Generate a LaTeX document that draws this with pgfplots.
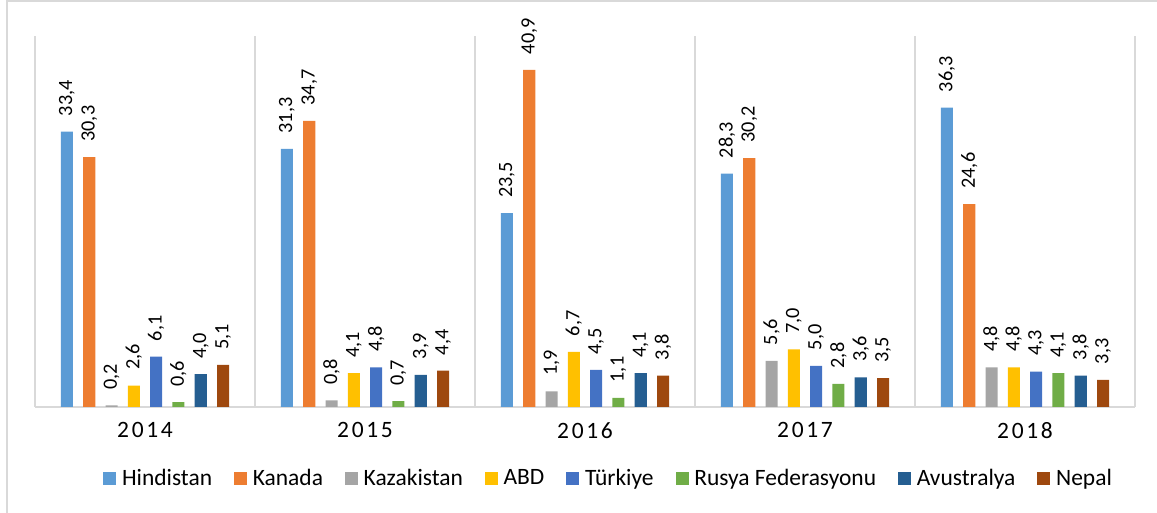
\documentclass[border=0pt]{standalone}
\usepackage{fontspec}
\setmainfont{Carlito}
\usepackage{pgfplots}
\pgfplotsset{compat=1.18}
\usepackage{pgfplotstable}
\definecolor{c1}{HTML}{5B9BD5}
\definecolor{c2}{HTML}{ED7D31}
\definecolor{c3}{HTML}{A5A5A5}
\definecolor{c4}{HTML}{FFC000}
\definecolor{c5}{HTML}{4472C4}
\definecolor{c6}{HTML}{70AD47}
\definecolor{c7}{HTML}{255E91}
\definecolor{c8}{HTML}{9E480E}
\definecolor{gridc}{HTML}{D9D9D9}

\pgfplotstableread{
x y
0 33.4
1 31.3
2 23.5
3 28.3
4 36.3
}\hind
\pgfplotstableread{
x y
0 30.3
1 34.7
2 40.9
3 30.2
4 24.6
}\kan
\pgfplotstableread{
x y
0 0.2
1 0.8
2 1.9
3 5.6
4 4.8
}\kaz
\pgfplotstableread{
x y
0 2.6
1 4.1
2 6.7
3 7.0
4 4.8
}\abd
\pgfplotstableread{
x y
0 6.1
1 4.8
2 4.5
3 5.0
4 4.3
}\tur
\pgfplotstableread{
x y
0 0.6
1 0.7
2 1.1
3 2.8
4 4.1
}\rus
\pgfplotstableread{
x y
0 4.0
1 3.9
2 4.1
3 3.6
4 3.8
}\avu
\pgfplotstableread{
x y
0 5.1
1 4.4
2 3.8
3 3.5
4 3.3
}\nep

\newcommand{\yr}[4]{{\fontsize{17.6}{20}\selectfont#1\kern2pt#2\kern2pt#3\kern2pt#4}}

\begin{document}
\begin{tikzpicture}
\useasboundingbox (0,0) rectangle (867.75pt,384.75pt);
\draw[gridc, line width=1.5pt] (5.25pt,0) -- (5.25pt,383.8pt) -- (867.75pt,383.8pt);
\begin{axis}[
  at={(26.25pt,79.5pt)}, anchor=south west,
  scale only axis, width=825pt, height=278.25pt,
  xmin=-0.5, xmax=4.5, ymin=0, ymax=45,
  clip=false,
  axis x line=bottom, axis y line=none,
  x axis line style={-, draw=gridc, line width=1.5pt},
  ytick=\empty,
  xtick={0,1,2,3,4},
  xticklabels={\yr2014,\yr2015,\yr2016,\yr2017,\yr2018},
  xticklabel style={yshift=-8pt},
  major tick length=0pt,
  minor xtick={-0.5,0.5,1.5,2.5,3.5,4.5},
  minor tick length=0pt,
  xminorgrids=true,
  minor grid style={gridc, line width=1.5pt},
  ybar, bar width=0.055,
  nodes near coords={\fontsize{15.2}{17}\selectfont\pgfmathprintnumber[fixed, fixed zerofill, precision=1, use comma, assume math mode=true]{\pgfplotspointmeta}},
  every node near coord/.append style={rotate=90, anchor=west, inner xsep=11.5pt, inner ysep=0pt, text=black},
  legend columns=8,
  legend image code/.code={\draw[#1, draw=none] (0pt,-4.875pt) rectangle (9.75pt,4.875pt); \path (12pt,0pt);},
  legend style={draw=none, fill=none, at={(0.5218,-0.1914)}, anchor=center,
    font=\fontsize{17.6}{20}\selectfont,
    /tikz/every even column/.append style={column sep=14.5pt}},
]
\addplot[fill=c1, draw=none, bar shift=-0.355] table {\hind};
\addplot[fill=c2, draw=none, bar shift=-0.2535] table {\kan};
\addplot[fill=c3, draw=none, bar shift=-0.152] table {\kaz};
\addplot[fill=c4, draw=none, bar shift=-0.0507] table {\abd};
\addplot[fill=c5, draw=none, bar shift=0.0507] table {\tur};
\addplot[fill=c6, draw=none, bar shift=0.152] table {\rus};
\addplot[fill=c7, draw=none, bar shift=0.2535] table {\avu};
\addplot[fill=c8, draw=none, bar shift=0.355] table {\nep};
\legend{Hindistan, Kanada, Kazakistan, ABD, Türkiye, Rusya Federasyonu, Avustralya, Nepal}
\end{axis}
\end{tikzpicture}
\end{document}
